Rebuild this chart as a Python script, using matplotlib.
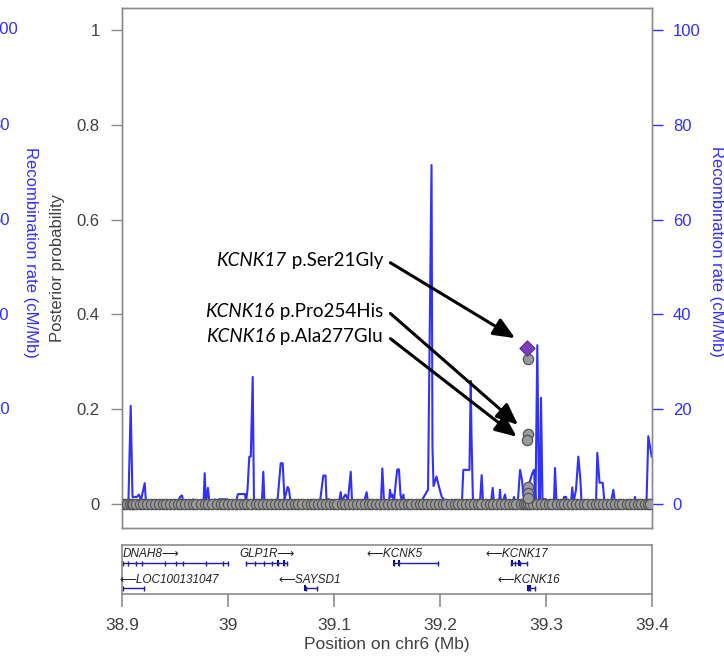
import matplotlib
matplotlib.use('Agg')
import matplotlib.pyplot as plt

plt.rcParams['font.family'] = ['Liberation Sans', 'DejaVu Sans']

# recombination rate (position in Mb, cM/Mb)
recomb_pos = [38.9000, 38.9038, 38.9061, 38.9082, 38.9099, 38.9142, 38.9160, 38.9179, 38.9214, 38.9226,
              38.9264, 38.9528, 38.9547, 38.9566, 38.9580, 38.9660, 38.9670, 38.9679, 38.9769, 38.9780,
              38.9792, 38.9811, 38.9825, 38.9868, 38.9877, 38.9896, 38.9915, 38.9991, 39.0009, 39.0075,
              39.0094, 39.0160, 39.0170, 39.0184, 39.0201, 39.0215, 39.0233, 39.0245, 39.0292, 39.0321,
              39.0333, 39.0344, 39.0462, 39.0472, 39.0497, 39.0516, 39.0533, 39.0563, 39.0575, 39.0590,
              39.0868, 39.0899, 39.0920, 39.0929, 39.0953, 39.0972, 39.1047, 39.1063, 39.1075, 39.1094,
              39.1108, 39.1132, 39.1158, 39.1170, 39.1283, 39.1308, 39.1321, 39.1443, 39.1456, 39.1472,
              39.1519, 39.1528, 39.1538, 39.1550, 39.1566, 39.1585, 39.1597, 39.1613, 39.1627, 39.1642,
              39.1654, 39.1665, 39.1811, 39.1830, 39.1875, 39.1887, 39.1920, 39.1929, 39.1939, 39.1967,
              39.1986, 39.2016, 39.2057, 39.2189, 39.2208, 39.2220, 39.2278, 39.2290, 39.2297, 39.2311,
              39.2377, 39.2393, 39.2406, 39.2481, 39.2497, 39.2509, 39.2557, 39.2566, 39.2575, 39.2594,
              39.2613, 39.2627, 39.2689, 39.2698, 39.2708, 39.2736, 39.2755, 39.2774, 39.2792, 39.2871,
              39.2887, 39.2901, 39.2918, 39.2934, 39.2943, 39.2953, 39.2967, 39.2981, 39.3000, 39.3009,
              39.3075, 39.3085, 39.3099, 39.3160, 39.3170, 39.3189, 39.3198, 39.3236, 39.3248, 39.3259,
              39.3283, 39.3305, 39.3325, 39.3335, 39.3472, 39.3484, 39.3505, 39.3535, 39.3552, 39.3613,
              39.3635, 39.3651, 39.3830, 39.3840, 39.3849, 39.3948, 39.3965, 39.3997]
recomb_rate = [0.8, 0.8, 0.8, 20.7, 1.5, 1.5, 2.0, 0.8, 4.4, 0.5,
               0.3, 0.3, 1.5, 1.8, 0.3, 0.3, 1.0, 0.2, 0.2, 6.5,
               0.3, 3.4, 0.3, 0.3, 1.0, 0.5, 1.0, 1.0, 0.3, 0.3,
               2.1, 2.1, 0.5, 3.0, 10.0, 10.0, 26.8, 0.5, 0.5, 1.0,
               6.8, 0.3, 0.3, 2.0, 8.6, 8.6, 1.0, 3.6, 3.0, 0.5,
               0.5, 6.0, 6.0, 1.0, 1.0, 0.3, 0.3, 2.5, 0.3, 1.5,
               2.0, 1.0, 6.8, 0.5, 0.5, 2.5, 0.3, 0.3, 7.5, 0.5,
               0.5, 3.0, 1.5, 2.0, 0.5, 5.0, 7.3, 7.3, 2.0, 0.5,
               2.0, 0.2, 0.2, 0.8, 2.6, 3.0, 71.5, 12.0, 3.8, 5.8,
               4.0, 1.5, 0.5, 0.3, 1.0, 7.2, 7.2, 26.0, 14.5, 0.3,
               0.3, 6.1, 0.3, 0.3, 3.4, 0.3, 0.3, 3.0, 0.3, 0.5,
               2.0, 0.5, 0.5, 1.5, 0.5, 1.0, 7.2, 5.0, 0.5, 6.5,
               7.2, 0.5, 33.5, 0.5, 0.5, 22.4, 0.5, 1.0, 1.0, 0.3,
               0.3, 7.6, 0.3, 0.3, 1.5, 1.5, 0.3, 0.3, 3.5, 0.3,
               3.0, 10.0, 5.0, 0.3, 0.3, 10.8, 4.5, 4.5, 0.3, 0.3,
               3.0, 0.3, 0.3, 1.5, 0.3, 0.3, 14.3, 10.0]

# variants with posterior probability ~0
zero_pos = [38.9015, 38.9048, 38.9071, 38.9093, 38.9102, 38.9135, 38.9168, 38.9201, 38.9240, 38.9276,
            38.9310, 38.9352, 38.9388, 38.9415, 38.9452, 38.9490, 38.9531, 38.9560, 38.9598, 38.9635,
            38.9670, 38.9702, 38.9745, 38.9780, 38.9812, 38.9850, 38.9893, 38.9931, 38.9965, 39.0004,
            39.0036, 39.0078, 39.0112, 39.0150, 39.0183, 39.0221, 39.0260, 39.0290, 39.0332, 39.0371,
            39.0405, 39.0444, 39.0480, 39.0518, 39.0553, 39.0590, 39.0631, 39.0665, 39.0702, 39.0741,
            39.0780, 39.0812, 39.0850, 39.0889, 39.0921, 39.0958, 39.0998, 39.1030, 39.1071, 39.1105,
            39.1142, 39.1180, 39.1218, 39.1250, 39.1291, 39.1330, 39.1362, 39.1400, 39.1438, 39.1470,
            39.1512, 39.1550, 39.1585, 39.1620, 39.1660, 39.1695, 39.1731, 39.1770, 39.1808, 39.1840,
            39.1880, 39.1917, 39.1950, 39.1990, 39.2028, 39.2061, 39.2100, 39.2138, 39.2170, 39.2210,
            39.2249, 39.2280, 39.2320, 39.2358, 39.2390, 39.2430, 39.2468, 39.2500, 39.2540, 39.2577,
            39.2610, 39.2650, 39.2688, 39.2720, 39.2760, 39.2790, 39.2812, 39.2830, 39.2851, 39.2880,
            39.2918, 39.2950, 39.2990, 39.3028, 39.3060, 39.3100, 39.3138, 39.3170, 39.3210, 39.3248,
            39.3280, 39.3320, 39.3358, 39.3390, 39.3430, 39.3468, 39.3500, 39.3540, 39.3577, 39.3610,
            39.3650, 39.3688, 39.3720, 39.3760, 39.3795, 39.3830, 39.3868, 39.3900, 39.3935, 39.3960,
            39.3985]

# variants with non-zero posterior probability
var_pos = [39.2826, 39.2826, 39.2823, 39.2826, 39.2826, 39.2826]
var_pp = [0.305, 0.147, 0.136, 0.036, 0.023, 0.013]
lead_pos = 39.2825
lead_pp = 0.330

# labelled variants
ann_gene = ['KCNK17', 'KCNK16', 'KCNK16']
ann_change = [' p.Ser21Gly', ' p.Pro254His', ' p.Ala277Glu']
ann_text_y = [0.513, 0.406, 0.353]
ann_tip_x = [39.2708, 39.2736, 39.2723]
ann_tip_y = [0.350, 0.167, 0.142]

# genes
gene_names = ['DNAH8', 'LOC100131047', 'GLP1R', 'SAYSD1', 'KCNK5', 'KCNK17', 'KCNK16']
gene_start = [38.9000, 38.9005, 39.0167, 39.0713, 39.1560, 39.2667, 39.2826]
gene_end = [38.9998, 38.9210, 39.0560, 39.0838, 39.1977, 39.2819, 39.2900]
gene_strand = ['+', '-', '+', '-', '-', '-', '-']
gene_row = [0, 1, 0, 1, 0, 0, 1]
gene_label_x = [38.9270, 38.9445, 39.0366, 39.0774, 39.1570, 39.2726, 39.2840]
gene_exons = [
    [38.9005, 38.9056, 38.9130, 38.9190, 38.9410, 38.9510, 38.9578, 38.9797, 38.9949, 38.9998],
    [38.9005, 38.9210],
    [39.0167, 39.0252, 39.0343, 39.0411, 39.0468, 39.0529, 39.0560],
    [39.0738, 39.0838],
    [39.1570, 39.1615, 39.1977],
    [39.2674, 39.2710, 39.2755, 39.2819],
    [39.2826, 39.2850, 39.2900],
]
gene_big_exons = [[], [], [39.0468, 39.0529], [39.0730], [39.1565, 39.1612], [39.2680, 39.2745], [39.2832, 39.2845]]

gray_txt = '#404040'
gray_line = '#8c8c8c'
blue = '#3030ff'

fig = plt.figure(figsize=(7.24, 6.56), dpi=100)
W, H = 724.0, 656.0

# main panel
ax = fig.add_axes([122 / W, 1 - 528 / H, 530 / W, 520 / H])
ax2 = ax.twinx()
ax.set_zorder(ax2.get_zorder() + 1)
ax.patch.set_visible(False)

ax2.plot(recomb_pos, recomb_rate, color=blue, lw=1.5)
ax2.set_ylim(-5.06, 104.64)
ax2.set_yticks([0, 20, 40, 60, 80, 100])
ax2.tick_params(axis='y', colors=blue, labelcolor=blue, labelsize=12, length=8, width=1, pad=7)
ax2.set_ylabel('Recombination rate (cM/Mb)', color=blue, fontsize=12, rotation=270, va='center')
ax2.yaxis.set_label_coords(1.122, 0.531)

ax.scatter(zero_pos, [0] * len(zero_pos), s=55, c='#9a9a9a', edgecolors='#555555', linewidths=0.9, zorder=3)
ax.scatter(var_pos, var_pp, s=55, c='#9a9a9a', edgecolors='#555555', linewidths=0.9, zorder=3)
ax.scatter([lead_pos], [lead_pp], s=60, marker='D', c='#7b3cc0', edgecolors='#5a2a90', linewidths=0.8, zorder=4)

ax.set_xlim(38.9, 39.4)
ax.set_ylim(-0.0506, 1.0464)
ax.set_yticks([0, 0.2, 0.4, 0.6, 0.8, 1])
ax.set_yticklabels(['0', '0.2', '0.4', '0.6', '0.8', '1'])
ax.tick_params(axis='y', colors=gray_line, labelcolor=gray_txt, labelsize=12, length=8, width=1, pad=8)
ax.set_ylabel('Posterior probability', color=gray_txt, fontsize=12, va='center')
ax.yaxis.set_label_coords(-0.1208, 0.5)
for a in (ax, ax2):
    a.set_xticks([])
    for sp in a.spines.values():
        sp.set_color(gray_line)
        sp.set_linewidth(1)

# annotations
renderer = fig.canvas.get_renderer()
text_right = 39.1462
for g, ch, ty, tx2, ty2 in zip(ann_gene, ann_change, ann_text_y, ann_tip_x, ann_tip_y):
    t = ax.text(text_right, ty, ch, ha='right', va='center', fontsize=13.5, family='Lato', zorder=6)
    bb = t.get_window_extent(renderer=renderer)
    x0 = ax.transData.inverted().transform((bb.x0, 0))[0]
    ax.text(x0, ty, g, ha='right', va='center', fontsize=13.5, family='Lato', style='italic', zorder=6)
    ax.annotate('', xy=(tx2, ty2), xytext=(text_right + 0.007, ty - 0.004),
                arrowprops=dict(arrowstyle='-|>,head_length=0.65,head_width=0.28', color='black',
                                lw=2.2, mutation_scale=20, shrinkA=0, shrinkB=0), zorder=6)

# gene panel
axg = fig.add_axes([122 / W, 1 - 594 / H, 530 / W, 49 / H])
axg.set_xlim(38.9, 39.4)
axg.set_ylim(49, 0)
row_line = [18, 43]
row_label = [9, 35]
gene_col = '#1f1fa0'
for i, name in enumerate(gene_names):
    yl = row_line[gene_row[i]]
    axg.plot([gene_start[i], gene_end[i]], [yl, yl], color=gene_col, lw=1)
    axg.vlines(gene_exons[i], yl - 2.5, yl + 2.5, color=gene_col, lw=1)
    for e in gene_big_exons[i]:
        axg.add_patch(plt.Rectangle((e - 0.0009, yl - 3), 0.0018, 6, color='#0a0a80', lw=0))
    if gene_strand[i] == '+':
        lab = name + '\u27f6'
    else:
        lab = '\u27f5' + name
    axg.text(gene_label_x[i], row_label[gene_row[i]], lab, ha='center', va='center',
             fontsize=8.5, style='italic', color='#222222', family=['Liberation Sans', 'DejaVu Sans'])
axg.set_yticks([])
axg.set_xticks([38.9, 39.0, 39.1, 39.2, 39.3, 39.4])
axg.set_xticklabels(['38.9', '39', '39.1', '39.2', '39.3', '39.4'])
axg.tick_params(axis='x', colors=gray_line, labelcolor=gray_txt, labelsize=12.5, length=9, width=1.2, pad=8)
axg.set_xlabel('Position on chr6 (Mb)', color=gray_txt, fontsize=12.5, labelpad=3)
for sp in axg.spines.values():
    sp.set_color(gray_line)
    sp.set_linewidth(1.2)

# cropped edge of the neighbouring panel
for val, py in zip(['100', '80', '60', '40', '20'], [30, 125, 220, 315, 410]):
    fig.text(-9 / W, 1 - py / H, val, color=blue, fontsize=12, ha='left', va='center')
fig.text(30 / W, 1 - 252 / H, 'Recombination rate (cM/Mb)', color=blue, fontsize=12,
         rotation=270, ha='center', va='center')

fig.savefig('out.png', dpi=100)
